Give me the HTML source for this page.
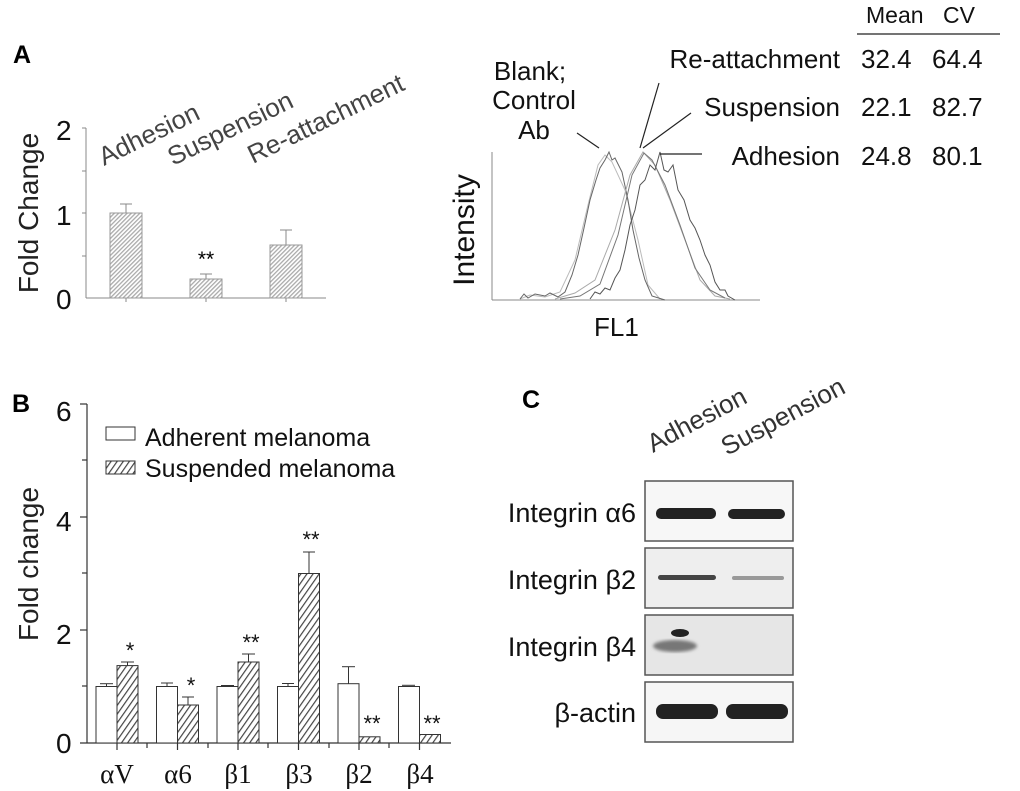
<!DOCTYPE html>
<html><head><meta charset="utf-8"><style>body{margin:0;background:#fff}svg{display:block}</style></head>
<body>
<svg width="1020" height="791" viewBox="0 0 1020 791" xmlns="http://www.w3.org/2000/svg" font-family="Liberation Sans, Arial, sans-serif">
<defs>
<pattern id="h1" width="3" height="3" patternUnits="userSpaceOnUse" patternTransform="rotate(45)">
<rect width="3" height="3" fill="#fff"/><rect width="1.3" height="3" fill="#aaa"/></pattern>
<pattern id="h2" width="5" height="5" patternUnits="userSpaceOnUse" patternTransform="rotate(35)">
<rect width="5" height="5" fill="#fff"/><rect width="1.2" height="5" fill="#444"/></pattern>
<filter id="bl"><feGaussianBlur stdDeviation="1.6"/></filter>
</defs>
<g font-weight="bold" font-size="25" fill="#000">
<text x="13" y="63">A</text><text x="12" y="412">B</text><text x="522" y="408">C</text></g>

<g stroke="#888" stroke-width="1" fill="none">
<line x1="86" y1="128" x2="86" y2="298"/><line x1="86" y1="298" x2="326" y2="298"/>
<line x1="82" y1="128" x2="86" y2="128"/><line x1="82" y1="171" x2="86" y2="171"/><line x1="82" y1="213" x2="86" y2="213"/><line x1="82" y1="256" x2="86" y2="256"/>
<line x1="126" y1="298" x2="126" y2="302"/><line x1="206" y1="298" x2="206" y2="302"/><line x1="286" y1="298" x2="286" y2="302"/>
<line x1="126" y1="204" x2="126" y2="213"/><line x1="120" y1="204" x2="132" y2="204"/>
<line x1="206" y1="274" x2="206" y2="279"/><line x1="200" y1="274" x2="212" y2="274"/>
<line x1="286" y1="230" x2="286" y2="245"/><line x1="280" y1="230" x2="292" y2="230"/>
</g>
<g stroke="#999" stroke-width="1" fill="url(#h1)">
<rect x="110" y="213" width="32" height="85"/><rect x="190" y="279" width="32" height="19"/><rect x="270" y="245" width="32" height="53"/></g>
<g font-size="28" fill="#111"><text x="56" y="140">2</text><text x="56" y="225">1</text><text x="56" y="309">0</text></g>
<text transform="translate(38,213) rotate(-90)" text-anchor="middle" font-size="28" fill="#222">Fold Change</text>
<text x="206" y="266" text-anchor="middle" font-size="21">**</text>
<g font-size="26" fill="#444">
<text transform="translate(104,166) rotate(-26)">Adhesion</text>
<text transform="translate(173,166) rotate(-26)">Suspension</text>
<text transform="translate(253,164) rotate(-26)">Re-attachment</text></g>

<g stroke="#888" stroke-width="1" fill="none">
<line x1="492" y1="152" x2="492" y2="300"/><line x1="492" y1="300" x2="760" y2="300"/>
<polyline stroke="#bbb" points="520,299 530,295 545,297 560,292 575,260 588,205 598,165 605,155 612,162 625,190 638,240 648,285 660,299"/>
<polyline stroke="#666" points="520,299 524,294 528,298 535,294 545,296 550,293 558,297 565,292 572,275 578,255 584,228 590,200 596,180 600,168 605,160 609,152 612,160 615,158 622,172 628,200 633,230 639,258 645,280 652,296 665,300"/>
<polyline stroke="#aaa" points="555,299 575,293 595,280 615,230 630,175 643,152 655,165 670,200 685,240 700,280 715,296 730,299"/>
<polyline stroke="#777" points="560,299 580,296 600,284 618,235 632,175 644,153 652,160 665,185 680,225 695,268 710,290 725,298"/>
<polyline stroke="#555" points="590,299 595,292 600,294 605,288 610,290 615,278 620,270 625,250 630,225 635,210 640,185 645,180 650,165 655,170 660,152 664,170 668,172 673,165 678,190 684,200 690,220 695,228 700,240 705,255 710,265 715,282 720,290 725,290 728,296 735,300"/>
</g>
<text transform="translate(474,230) rotate(-90)" text-anchor="middle" font-size="30" fill="#111">Intensity</text>
<text x="594" y="336" font-size="26" fill="#111">FL1</text>
<g font-size="26" fill="#111">
<text x="530" y="80" text-anchor="middle">Blank;</text>
<text x="534" y="109" text-anchor="middle">Control</text>
<text x="534" y="139" text-anchor="middle">Ab</text>
<text x="840" y="68" text-anchor="end">Re-attachment</text>
<text x="840" y="116" text-anchor="end">Suspension</text>
<text x="840" y="165" text-anchor="end">Adhesion</text>
<text x="861" y="68">32.4</text><text x="932" y="68">64.4</text>
<text x="861" y="116">22.1</text><text x="932" y="116">82.7</text>
<text x="861" y="165">24.8</text><text x="932" y="165">80.1</text>
<text x="866" y="23" font-size="23">Mean</text><text x="943" y="23" font-size="23">CV</text></g>
<g stroke="#222" stroke-width="1.2">
<line x1="857" y1="34" x2="1000" y2="34"/>
<line x1="577" y1="133" x2="599" y2="148"/>
<line x1="659" y1="83" x2="640" y2="148"/>
<line x1="691" y1="113" x2="643" y2="148"/>
<line x1="660" y1="154" x2="702" y2="154"/></g>

<g stroke="#333" stroke-width="1.2" fill="none">
<line x1="87" y1="404" x2="87" y2="743"/><line x1="80" y1="743" x2="451" y2="743"/>
<line x1="80" y1="404" x2="87" y2="404"/><line x1="82" y1="460" x2="87" y2="460"/><line x1="80" y1="517" x2="87" y2="517"/><line x1="82" y1="573" x2="87" y2="573"/><line x1="80" y1="630" x2="87" y2="630"/><line x1="82" y1="686" x2="87" y2="686"/>
</g>
<g stroke="#333" stroke-width="1">
<rect x="96" y="686.5" width="21" height="56.5" fill="#fff"/><rect x="117" y="665.6" width="21" height="77.4" fill="url(#h2)"/>
<line x1="106.5" y1="683.7" x2="106.5" y2="686.5"/><line x1="100" y1="683.7" x2="113" y2="683.7"/>
<line x1="127.5" y1="662" x2="127.5" y2="665.6"/><line x1="121" y1="662" x2="134" y2="662"/>
<rect x="156.5" y="686.5" width="21" height="56.5" fill="#fff"/><rect x="177.5" y="705" width="21" height="38" fill="url(#h2)"/>
<line x1="167" y1="683" x2="167" y2="686.5"/><line x1="161" y1="683" x2="173" y2="683"/>
<line x1="188" y1="697" x2="188" y2="705"/><line x1="182" y1="697" x2="194" y2="697"/>
<rect x="217" y="686.5" width="21" height="56.5" fill="#fff"/><rect x="238" y="662" width="21" height="81" fill="url(#h2)"/>
<line x1="221" y1="685.5" x2="234" y2="685.5"/>
<line x1="248.5" y1="654" x2="248.5" y2="662"/><line x1="242" y1="654" x2="255" y2="654"/>
<rect x="277.5" y="686.5" width="21" height="56.5" fill="#fff"/><rect x="298.5" y="573.5" width="21" height="169.5" fill="url(#h2)"/>
<line x1="288" y1="683.5" x2="288" y2="686.5"/><line x1="282" y1="683.5" x2="294" y2="683.5"/>
<line x1="309" y1="552" x2="309" y2="573.5"/><line x1="303" y1="552" x2="315" y2="552"/>
<rect x="338" y="683.7" width="21" height="59.3" fill="#fff"/><rect x="359" y="736.8" width="21" height="6.2" fill="url(#h2)"/>
<line x1="348.5" y1="666.7" x2="348.5" y2="683.7"/><line x1="342" y1="666.7" x2="355" y2="666.7"/>
<rect x="398.5" y="686.5" width="21" height="56.5" fill="#fff"/><rect x="419.5" y="734.5" width="21" height="8.5" fill="url(#h2)"/>
<line x1="402" y1="685.3" x2="415" y2="685.3"/>
</g>
<g stroke="#333" stroke-width="1.2">
<line x1="117" y1="743" x2="117" y2="750"/><line x1="177.5" y1="743" x2="177.5" y2="750"/><line x1="238" y1="743" x2="238" y2="750"/><line x1="298.5" y1="743" x2="298.5" y2="750"/><line x1="359" y1="743" x2="359" y2="750"/><line x1="419.5" y1="743" x2="419.5" y2="750"/>
<line x1="147" y1="743" x2="147" y2="748"/><line x1="208" y1="743" x2="208" y2="748"/><line x1="268" y1="743" x2="268" y2="748"/><line x1="329" y1="743" x2="329" y2="748"/><line x1="389" y1="743" x2="389" y2="748"/></g>
<g font-size="22" fill="#111" text-anchor="middle">
<text x="130" y="658">*</text><text x="191" y="693">*</text><text x="251" y="650">**</text><text x="311" y="547">**</text><text x="372" y="731">**</text><text x="432" y="731">**</text></g>
<g font-size="28" fill="#111"><text x="56" y="421">6</text><text x="56" y="531">4</text><text x="56" y="644">2</text><text x="56" y="753">0</text></g>
<text transform="translate(38,564) rotate(-90)" text-anchor="middle" font-size="28" fill="#222">Fold change</text>
<g font-family="Liberation Serif, serif" font-size="27" fill="#111" text-anchor="middle">
<text x="117" y="783">αV</text><text x="178" y="783">α6</text><text x="238" y="783">β1</text><text x="299" y="783">β3</text><text x="359" y="783">β2</text><text x="420" y="783">β4</text></g>
<rect x="106" y="427" width="29" height="13" fill="#fff" stroke="#333"/>
<rect x="106" y="461" width="29" height="13" fill="url(#h2)" stroke="#333"/>
<g font-size="25" fill="#111"><text x="145" y="446">Adherent melanoma</text><text x="145" y="477">Suspended melanoma</text></g>

<g font-size="26" fill="#333">
<text transform="translate(653,453) rotate(-28)">Adhesion</text>
<text transform="translate(727,456) rotate(-28)">Suspension</text></g>
<g stroke="#555" stroke-width="1.5">
<rect x="645" y="481" width="148" height="60" fill="#f7f7f7"/>
<rect x="645" y="548" width="148" height="60" fill="#eeeeee"/>
<rect x="645" y="615" width="148" height="60" fill="#e6e6e6"/>
<rect x="645" y="682" width="148" height="60" fill="#f6f6f6"/></g>
<g fill="#222">
<rect x="656" y="508" width="60" height="11" rx="5"/><rect x="728" y="509" width="57" height="10" rx="5"/>
<rect x="658" y="575" width="58" height="5" rx="2.5" fill="#444"/><rect x="732" y="576" width="52" height="4" rx="2" fill="#999"/>
<rect x="656" y="704" width="62" height="15" rx="7"/><rect x="726" y="704" width="62" height="15" rx="7"/>
<ellipse cx="680" cy="633" rx="9" ry="4"/>
<ellipse cx="675" cy="646" rx="22" ry="6" fill="#777" filter="url(#bl)"/></g>
<g font-size="27" fill="#111" text-anchor="end">
<text x="636" y="522">Integrin α6</text><text x="636" y="589">Integrin β2</text><text x="636" y="656">Integrin β4</text><text x="636" y="722">β-actin</text></g>
</svg>
</body></html>
